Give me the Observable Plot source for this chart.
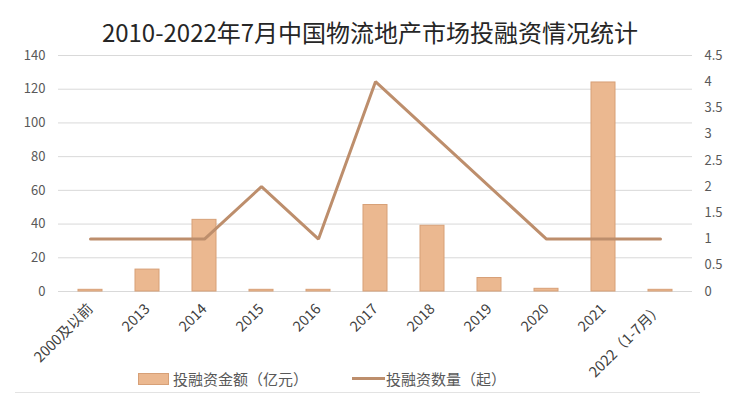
<!DOCTYPE html>
<html>
<head>
<meta charset="utf-8">
<script src="https://cdn.jsdelivr.net/npm/d3@7"></script>
<script src="https://cdn.jsdelivr.net/npm/@observablehq/plot@0.6"></script>
<style>
  html, body { margin: 0; padding: 0; background: #fff; }
  body { width: 740px; height: 399px; position: relative; overflow: hidden; font-family: "Noto Sans CJK SC", "Noto Sans", sans-serif; }
  #title { height: 45px; line-height: 45px; padding-top: 9px; box-sizing: border-box; text-align: center; font-size: 24px; color: #262626; font-weight: 400; }
  #chart svg { display: block; }
  .legend { position: absolute; top: 368px; font-size: 15px; color: #595959; display: flex; align-items: center; }
  .sw-bar { width: 31px; height: 12px; background: #ebb890; border: 1px solid #d7a077; box-sizing: border-box; margin-right: 4px; }
  .sw-line { width: 33px; height: 3px; background: #bd8e6c; margin-right: 1px; }
  #rule { position: absolute; left: 15px; width: 685px; top: 392px; height: 1px; background: #e3e3e3; }
</style>
</head>
<body>
<div id="title">2010-2022年7月中国物流地产市场投融资情况统计</div>
<div id="chart"></div>
<div class="legend" style="left:138px"><div class="sw-bar"></div>投融资金额（亿元）</div>
<div class="legend" style="left:352px"><div class="sw-line"></div>投融资数量（起）</div>
<div id="rule"></div>
<script>
const categories = ["2000及以前", "2013", "2014", "2015", "2016", "2017", "2018", "2019", "2020", "2021", "2022（1-7月）"];
const amounts = [1, 13, 42.5, 1, 1, 51.3, 39, 8, 1.6, 124, 1];   // 投融资金额（亿元）
const counts = [1, 1, 1, 2, 1, 4, 3, 2, 1, 1, 1];                  // 投融资数量（起）
const leftTicks = [0, 20, 40, 60, 80, 100, 120, 140];
const rightTicks = [0, 0.5, 1, 1.5, 2, 2.5, 3, 3.5, 4, 4.5];

const leftMax = 140, rightMax = 4.5;
const k = leftMax / rightMax;
const data = categories.map((c, i) => ({cat: c, amount: amounts[i], count: counts[i]}));

const plot = Plot.plot({
  width: 740,
  height: 354,
  marginLeft: 58,
  marginRight: 48,
  marginTop: 10,
  marginBottom: 108,
  style: {fontFamily: '"Noto Sans CJK SC", "Noto Sans", sans-serif', fontSize: "13px", color: "#595959", background: "#fff"},
  x: {domain: categories, paddingInner: 0.58, paddingOuter: 0.29, label: null},
  y: {domain: [0, leftMax], label: null},
  marks: [
    Plot.gridY(leftTicks, {stroke: "#d9d9d9", strokeOpacity: 1, strokeWidth: 1}),
    Plot.axisY(leftTicks, {anchor: "left", tickSize: 0, tickPadding: 13, label: null, fill: "#595959", fontSize: 13}),
    Plot.axisY(rightTicks.map(v => v * k), {anchor: "right", tickSize: 0, tickPadding: 12, label: null, fill: "#595959", fontSize: 13, textAnchor: "start", tickFormat: d => String(+(d / k).toFixed(1))}),
    Plot.axisX({tickSize: 0, tickRotate: -45, tickPadding: 15, label: null, fill: "#404040", fontSize: 14.5}),
    Plot.barY(data, {x: "cat", y: "amount", fill: "#ebb890", stroke: "#d7a077", strokeWidth: 1}),
    Plot.lineY(data, {x: "cat", y: d => d.count * k, stroke: "#bd8e6c", strokeWidth: 3, strokeLinejoin: "miter"})
  ]
});
document.getElementById("chart").appendChild(plot);
</script>
</body>
</html>
